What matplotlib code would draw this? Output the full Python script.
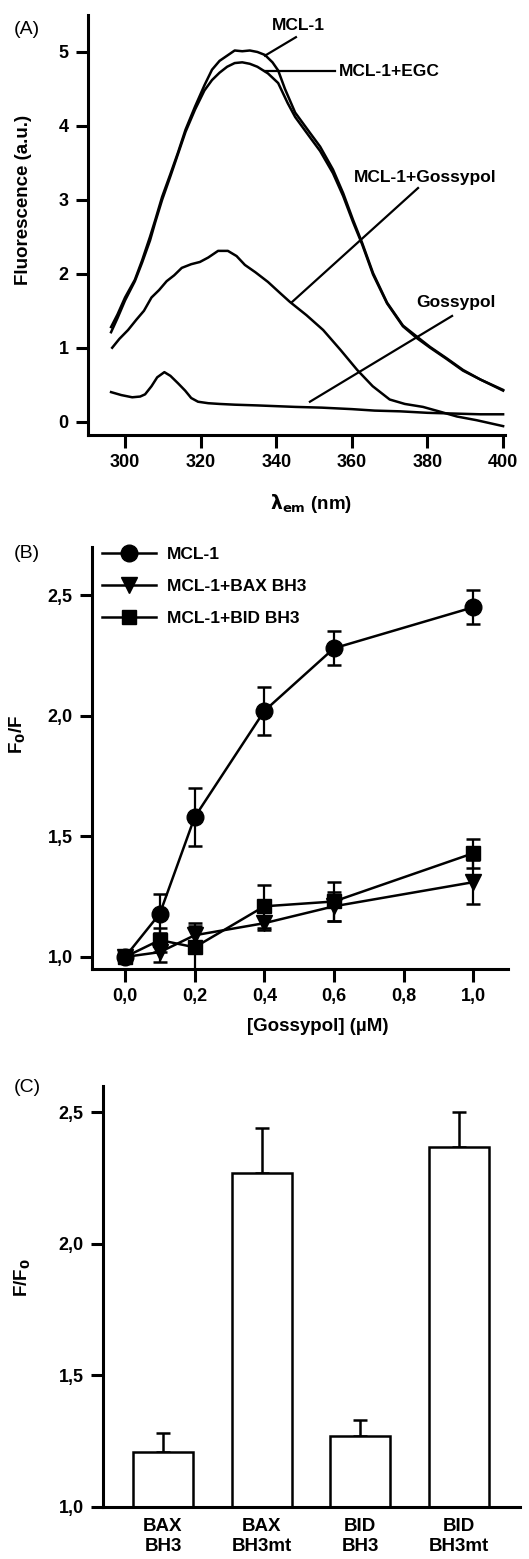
import matplotlib
matplotlib.use("Agg")
import matplotlib.pyplot as plt
from matplotlib.lines import Line2D
import numpy as np

plt.rcParams['font.family'] = ['Liberation Sans', 'DejaVu Sans']

# ---------------- Panel A data (emission spectra) ----------------
wl_mcl1 = [296.3, 298, 300, 302.6, 304.5, 306.6, 308, 309.8, 312, 314, 316, 318.5, 321, 323, 325, 327, 329, 331, 333, 335, 337, 339, 340.5, 342.3, 345, 349, 351.6, 355, 357.7, 360.3, 362.7, 365.6, 369.3, 373.5, 377.2, 380.7, 385, 389.4, 394, 400]
fl_mcl1 = [1.28, 1.45, 1.68, 1.92, 2.18, 2.5, 2.73, 3.04, 3.35, 3.64, 3.95, 4.26, 4.55, 4.76, 4.88, 4.95, 5.02, 5.01, 5.02, 5.0, 4.96, 4.86, 4.75, 4.50, 4.18, 3.90, 3.72, 3.41, 3.09, 2.73, 2.42, 2.01, 1.61, 1.30, 1.15, 1.01, 0.86, 0.70, 0.57, 0.43]

wl_egc = [296.3, 298, 300, 302.6, 304.5, 306.6, 308, 309.8, 312, 314, 316, 318.5, 321, 323, 325, 327, 329, 331, 333, 335, 337.8, 340.5, 343, 345, 349, 351.6, 355, 357.7, 360.3, 362.7, 365.6, 369.3, 373.5, 377.2, 380.7, 385, 389.4, 394, 400]
fl_egc = [1.21, 1.40, 1.64, 1.90, 2.15, 2.45, 2.70, 3.00, 3.32, 3.62, 3.92, 4.22, 4.48, 4.62, 4.72, 4.80, 4.85, 4.86, 4.84, 4.80, 4.71, 4.58, 4.31, 4.12, 3.84, 3.66, 3.36, 3.05, 2.70, 2.40, 1.99, 1.60, 1.29, 1.13, 1.00, 0.85, 0.69, 0.57, 0.42]

wl_gos_mcl = [296.6, 298.5, 300.8, 303, 305, 307, 309, 311, 313, 315, 317.5, 319.8, 322, 324.6, 327.2, 329.5, 331.7, 334.5, 337.8, 341, 343.6, 348, 352.4, 357, 361.4, 365.5, 370, 374, 378.8, 383, 387.8, 393, 400]
fl_gos_mcl = [1.00, 1.12, 1.24, 1.38, 1.50, 1.68, 1.78, 1.90, 1.98, 2.08, 2.13, 2.16, 2.22, 2.31, 2.31, 2.24, 2.12, 2.02, 1.89, 1.74, 1.62, 1.44, 1.24, 0.97, 0.70, 0.48, 0.30, 0.24, 0.20, 0.14, 0.07, 0.02, -0.06]

wl_gos = [296.3, 299, 301.9, 304, 305.3, 307, 308.5, 310.4, 312, 314, 315.9, 317.5, 319.3, 322, 325, 329, 335, 340, 345, 352, 360, 366, 372.8, 380, 387, 394, 400]
fl_gos = [0.40, 0.36, 0.33, 0.34, 0.37, 0.48, 0.60, 0.67, 0.62, 0.52, 0.42, 0.32, 0.27, 0.25, 0.24, 0.23, 0.22, 0.21, 0.20, 0.19, 0.17, 0.15, 0.14, 0.12, 0.11, 0.10, 0.10]

# ---------------- Panel B data (titration) ----------------
gossypol_conc = [0.0, 0.1, 0.2, 0.4, 0.6, 1.0]
mcl1_ratio = [1.00, 1.18, 1.58, 2.02, 2.28, 2.45]
mcl1_err = [0.02, 0.08, 0.12, 0.10, 0.07, 0.07]
bax_ratio = [1.00, 1.02, 1.09, 1.14, 1.21, 1.31]
bax_err = [0.02, 0.04, 0.05, 0.03, 0.06, 0.09]
bid_ratio = [1.00, 1.07, 1.04, 1.21, 1.23, 1.43]
bid_err = [0.02, 0.05, 0.09, 0.09, 0.08, 0.06]

# ---------------- Panel C data (bars) ----------------
bar_labels = ["BAX\nBH3", "BAX\nBH3mt", "BID\nBH3", "BID\nBH3mt"]
bar_values = [1.21, 2.27, 1.27, 2.37]
bar_err = [0.07, 0.17, 0.06, 0.13]

W, H = 529, 1559
fig = plt.figure(figsize=(W / 100, H / 100), dpi=100)

def px_axes(left, top, right, bottom):
    return fig.add_axes([left / W, 1 - bottom / H, (right - left) / W, (bottom - top) / H])

tick_fs = 13
lab_fs = 13.5

def style(ax):
    for s in ['top', 'right']:
        ax.spines[s].set_visible(False)
    for s in ['left', 'bottom']:
        ax.spines[s].set_linewidth(2.2)
    ax.tick_params(width=2.2, length=9, pad=5, labelsize=tick_fs, direction='out')
    for lbl in ax.get_xticklabels() + ax.get_yticklabels():
        lbl.set_fontweight('bold')

# ---------------- Panel A ----------------
axA = px_axes(88, 15, 505, 435)
lw = 1.8
axA.plot(wl_mcl1, fl_mcl1, color='black', lw=lw)
axA.plot(wl_egc, fl_egc, color='black', lw=lw)
axA.plot(wl_gos_mcl, fl_gos_mcl, color='black', lw=lw)
axA.plot(wl_gos, fl_gos, color='black', lw=lw)
axA.set_xlim(290.2, 400.5)
axA.set_ylim(-0.18, 5.5)
axA.set_xticks([300, 320, 340, 360, 380, 400])
axA.set_yticks([0, 1, 2, 3, 4, 5])
style(axA)
axA.set_ylabel('Fluorescence (a.u.)', fontsize=lab_fs, fontweight='bold')
axA.yaxis.set_label_coords(-0.134, 0.56)
axA.set_xlabel(r'$\mathbf{\lambda_{em}}$ (nm)', fontsize=lab_fs, fontweight='bold')
axA.xaxis.set_label_coords(0.535, -0.135)

ann_kw = dict(fontsize=12.5, fontweight='bold', color='black')
axA.plot([345.2, 337.0], [5.20, 4.95], color='black', lw=1.6)
axA.text(345.8, 5.36, 'MCL-1', ha='center', va='center', **ann_kw)
axA.plot([355.6, 337.0], [4.74, 4.74], color='black', lw=1.6)
axA.text(356.6, 4.74, 'MCL-1+EGC', ha='left', va='center', **ann_kw)
axA.plot([377.5, 344.2], [3.16, 1.62], color='black', lw=1.6)
axA.text(379.4, 3.30, 'MCL-1+Gossypol', ha='center', va='center', **ann_kw)
axA.plot([386.5, 348.9], [1.43, 0.27], color='black', lw=1.6)
axA.text(387.6, 1.61, 'Gossypol', ha='center', va='center', **ann_kw)

# ---------------- Panel B ----------------
axB = px_axes(92, 547, 508, 969)
ekw = dict(color='black', lw=1.8, capsize=5, capthick=1.8, elinewidth=1.6)
axB.errorbar(gossypol_conc, mcl1_ratio, yerr=mcl1_err, marker='o', ms=12, **ekw)
axB.errorbar(gossypol_conc, bax_ratio, yerr=bax_err, marker='v', ms=11.5, **ekw)
axB.errorbar(gossypol_conc, bid_ratio, yerr=bid_err, marker='s', ms=10.5, **ekw)
axB.set_xlim(-0.095, 1.10)
axB.set_ylim(0.95, 2.70)
axB.set_xticks([0.0, 0.2, 0.4, 0.6, 0.8, 1.0])
axB.set_xticklabels(['0,0', '0,2', '0,4', '0,6', '0,8', '1,0'])
axB.set_yticks([1.0, 1.5, 2.0, 2.5])
axB.set_yticklabels(['1,0', '1,5', '2,0', '2,5'])
style(axB)
axB.set_ylabel(r'F$_\mathbf{0}$/F', fontsize=lab_fs, fontweight='bold')
axB.yaxis.set_label_coords(-0.154, 0.555)
axB.set_xlabel('[Gossypol] (µM)', fontsize=lab_fs, fontweight='bold')
axB.xaxis.set_label_coords(0.543, -0.115)
handles = [Line2D([], [], color='black', lw=1.8, marker='o', ms=12),
           Line2D([], [], color='black', lw=1.8, marker='v', ms=11.5),
           Line2D([], [], color='black', lw=1.8, marker='s', ms=10.5)]
labels = ['MCL-1', 'MCL-1+BAX BH3', 'MCL-1+BID BH3']
axB.legend(handles, labels, loc='upper left', bbox_to_anchor=(-0.0, 1.025), frameon=False,
           handlelength=3.1, handletextpad=0.6, labelspacing=0.98, borderaxespad=0.2,
           prop={'weight': 'bold', 'size': 12.5})

# ---------------- Panel C ----------------
axC = px_axes(103, 1086, 520, 1507)
pos = np.arange(len(bar_values))
axC.bar(pos, bar_values, width=0.608, bottom=0, color='white', edgecolor='black', linewidth=1.8, zorder=2)
axC.errorbar(pos, bar_values, yerr=[np.zeros(len(bar_err)), bar_err], fmt='none', ecolor='black',
             elinewidth=1.8, capsize=5, capthick=1.8, zorder=1)
axC.set_xlim(-0.608, 3.618)
axC.set_ylim(1.0, 2.60)
axC.set_yticks([1.0, 1.5, 2.0, 2.5])
axC.set_yticklabels(['1,0', '1,5', '2,0', '2,5'])
axC.set_xticks(pos)
axC.set_xticklabels(bar_labels, fontsize=13.5, linespacing=1.25)
style(axC)
axC.tick_params(axis='x', length=0, pad=8, labelsize=13.5)
axC.set_ylabel(r'F/F$_\mathbf{0}$', fontsize=lab_fs, fontweight='bold')
axC.yaxis.set_label_coords(-0.168, 0.546)

fig.text(14 / W, 1 - 30 / H, '(A)', fontsize=14, va='center', ha='left')
fig.text(14 / W, 1 - 553 / H, '(B)', fontsize=14, va='center', ha='left')
fig.text(14 / W, 1 - 1088 / H, '(C)', fontsize=14, va='center', ha='left')

fig.savefig('out.png', dpi=100)
